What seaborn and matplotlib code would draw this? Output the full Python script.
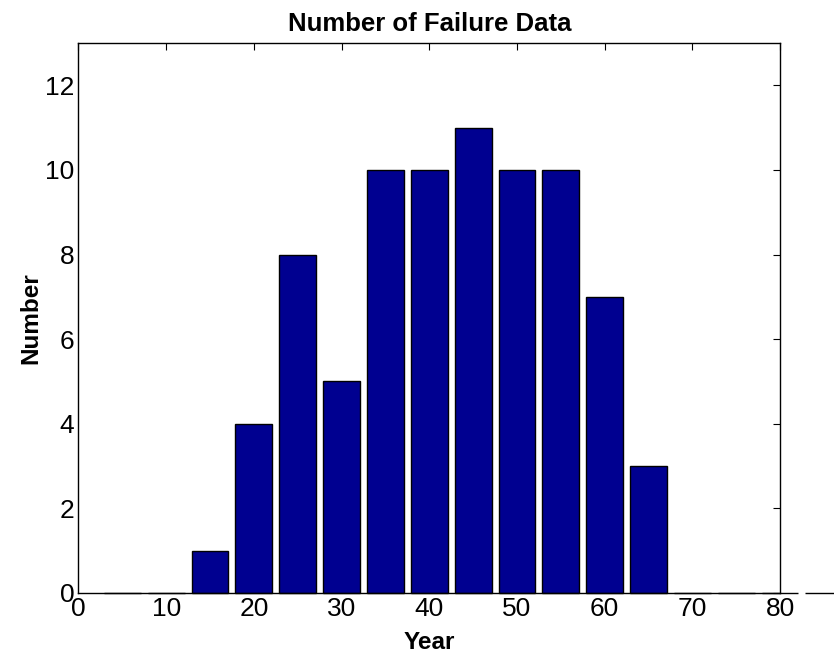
import matplotlib
matplotlib.use("Agg")
import matplotlib.pyplot as plt
import seaborn as sns
import pandas as pd

# Failure counts per 5-year bin
years = [5, 10, 15, 20, 25, 30, 35, 40, 45, 50, 55, 60, 65, 70, 75, 80, 85]
counts = [0, 0, 1, 4, 8, 5, 10, 10, 11, 10, 10, 7, 3, 0, 0, 0, 0]
x_ticks = [0, 10, 20, 30, 40, 50, 60, 70, 80]
y_ticks = [0, 2, 4, 6, 8, 10, 12]

sns.set_style("white")
plt.rcParams["font.family"] = ["Liberation Sans", "DejaVu Sans"]
plt.rcParams["text.color"] = "black"
plt.rcParams["axes.labelcolor"] = "black"
plt.rcParams["xtick.color"] = "black"
plt.rcParams["ytick.color"] = "black"

df = pd.DataFrame({"Year": years, "Number": counts})

fig = plt.figure(figsize=(8.34, 6.61), dpi=100)
ax = fig.add_axes([0.0941, 0.1029, 0.8412, 0.8320])

sns.barplot(data=df, x="Year", y="Number", native_scale=True, width=0.84,
            color="#000090", saturation=1, edgecolor="black", linewidth=1.0,
            ax=ax)
for p in ax.patches:
    p.set_clip_on(False)

ax.set_xlim(0, 80)
ax.set_ylim(0, 13)
ax.set_xticks(x_ticks)
ax.set_yticks(y_ticks)
ax.tick_params(direction="in", length=5, width=0.8, top=True, right=True,
               labelsize=19, colors="black", pad=3)
for s in ax.spines.values():
    s.set_color("black")
    s.set_linewidth(1.0)

ax.set_title("Number of Failure Data", fontsize=18.5, fontweight="bold",
             color="black", pad=9)
ax.set_xlabel("Year", fontsize=17.5, fontweight="bold", labelpad=7)
ax.set_ylabel("Number", fontsize=17.5, fontweight="bold", labelpad=2)

fig.savefig("out.png", dpi=100)
